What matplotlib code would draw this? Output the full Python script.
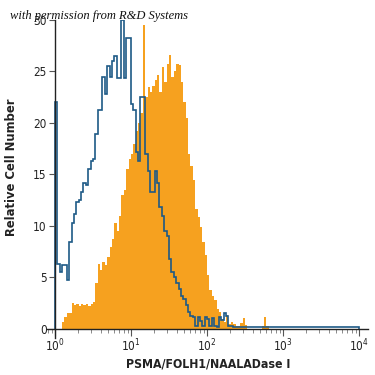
import numpy as np
import matplotlib
matplotlib.use('Agg')
import matplotlib.pyplot as plt
from matplotlib.ticker import LogLocator, NullFormatter

plt.rcParams['font.family'] = ['DejaVu Sans']
plt.rcParams['font.stretch'] = 'condensed'
plt.rcParams['mathtext.default'] = 'regular'

# histogram counts, bins of 1/32 decade starting at 10^0
isotype = [22.0, 6.3, 5.5, 6.2, 6.2, 4.8, 8.4, 10.3, 11.2, 12.3,
           12.5, 13.3, 14.2, 14.0, 15.5, 16.3, 16.5, 18.9, 21.3, 21.3,
           24.5, 22.8, 25.5, 24.5, 26.0, 26.5, 24.4, 24.4, 30.0, 24.4,
           28.3, 28.3, 21.8, 21.3, 17.2, 16.3, 22.5, 22.5, 17.0, 15.3,
           13.3, 13.3, 15.3, 14.2, 11.8, 11.0, 9.5, 9.0, 6.8, 5.5,
           5.0, 4.5, 3.9, 3.2, 2.9, 2.3, 1.6, 1.3, 1.2, 0.3,
           1.2, 0.8, 0.3, 1.2, 1.0, 0.3, 1.1, 0.3, 0.2, 1.2,
           0.9, 1.5, 1.3, 0.3, 0.3, 0.2]
isotype_tail = 0.15  # flat line out to 10^4

psma = [0, 0, 0, 0.7, 1.2, 1.5, 1.5, 2.5, 2.3, 2.4,
        2.2, 2.4, 2.3, 2.4, 2.2, 2.4, 2.6, 4.5, 6.3, 5.7,
        6.5, 6.2, 7.0, 8.0, 8.7, 10.3, 9.5, 11.0, 13.0, 13.5,
        15.5, 16.5, 17.0, 18.0, 19.2, 20.0, 21.0, 29.5, 22.5, 23.5,
        23.0, 23.6, 24.2, 24.7, 23.0, 25.4, 24.0, 25.7, 26.6, 24.5,
        25.0, 25.7, 25.6, 24.0, 22.0, 20.5, 17.0, 15.8, 14.5, 11.6,
        10.9, 9.9, 8.4, 7.2, 5.2, 3.8, 3.2, 2.8, 1.9, 1.6,
        1.0, 0.7, 1.4, 0.5, 0.7, 0.5, 0.3, 0.3, 0.6, 1.1,
        0.4, 0, 0, 0, 0, 0, 0, 0.3, 1.2, 0.3]

orange = '#F6A11F'
blue = '#1E5A86'

edges_p = np.logspace(0, len(psma) / 32, len(psma) + 1)
edges_i = np.append(np.logspace(0, len(isotype) / 32, len(isotype) + 1), 1e4)

fig = plt.figure(figsize=(3.75, 3.75), dpi=100)
ax = fig.add_axes([47 / 375, 1 - 338 / 375, 321 / 375, 318 / 375])

ax.stairs(psma, edges_p, fill=True, color=orange, lw=0)
ax.stairs(isotype + [isotype_tail], edges_i, color=blue, lw=1.2)

ax.set_xscale('log')
ax.set_xlim(10 ** -0.105, 10 ** 4.118)
ax.set_ylim(-0.88, 30)
ax.set_yticks([0, 5, 10, 15, 20, 25, 30])

ax.spines['top'].set_visible(False)
ax.spines['right'].set_visible(False)
ax.spines['left'].set_position(('data', 1))
ax.spines['bottom'].set_position(('data', 0))
for s in ['left', 'bottom']:
    ax.spines[s].set_color('#222222')
    ax.spines[s].set_linewidth(1.0)

ax.xaxis.set_major_locator(LogLocator(base=10, numticks=10))
ax.xaxis.set_minor_locator(LogLocator(base=10, subs=np.arange(2, 10), numticks=10))
ax.xaxis.set_minor_formatter(NullFormatter())
ax.tick_params(axis='x', which='major', length=5, width=0.8, color='#555555',
               labelsize=8.5, pad=1, labelcolor='#222222')
ax.tick_params(axis='x', which='minor', length=3, width=0.6, color='#777777')
ax.tick_params(axis='y', length=4, width=0.8, color='#555555',
               labelsize=8.5, pad=2, labelcolor='#222222')

fig.text(208 / 375, 1 - 364 / 375, 'PSMA/FOLH1/NAALADase I', ha='center',
         va='center', fontsize=8.8, fontweight='bold', color='#222222')
fig.text(12 / 375, 1 - 167 / 375, 'Relative Cell Number', ha='center',
         va='center', rotation=90, fontsize=9.3, fontweight='bold', color='#222222')
fig.text(10 / 375, 1 - 16 / 375, 'with permission from R&D Systems',
         ha='left', va='center', fontsize=9, style='italic',
         family=['Liberation Serif', 'DejaVu Serif'], stretch='normal',
         color='#111111')

fig.savefig('out.png', dpi=100)
